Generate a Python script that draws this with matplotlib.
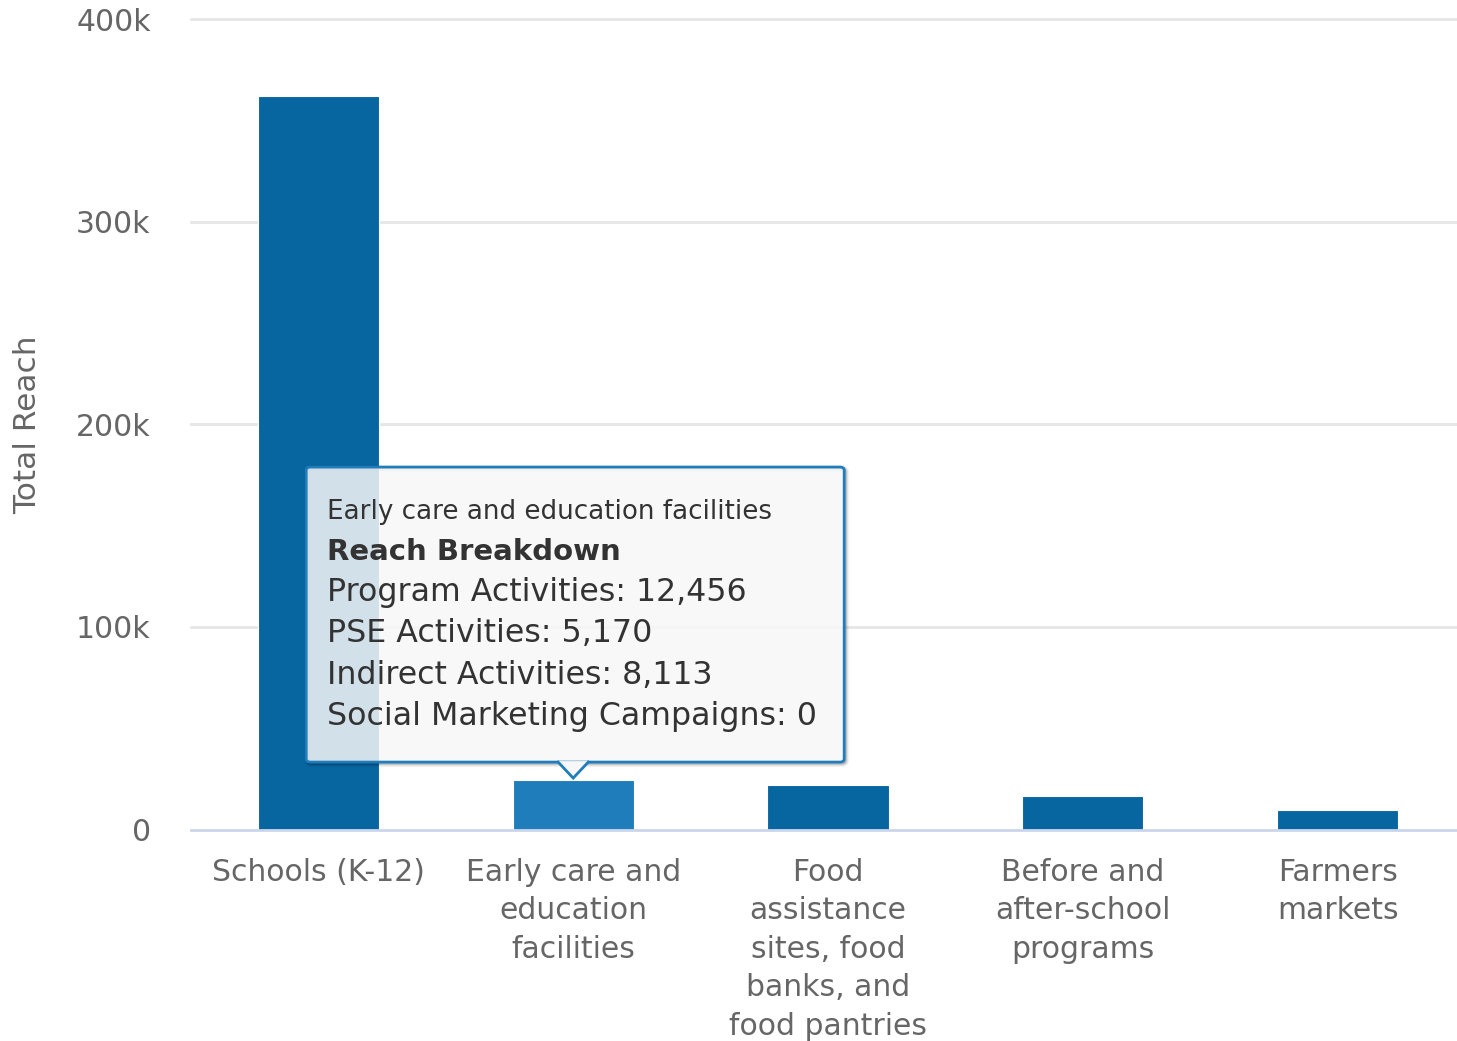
import matplotlib
matplotlib.use("Agg")
import matplotlib.pyplot as plt
from matplotlib.patches import FancyBboxPatch, Polygon
from matplotlib.ticker import FixedLocator, FuncFormatter

plt.rcParams['font.family'] = ['DejaVu Sans']

categories = ["Schools (K-12)", "Early care and\neducation\nfacilities",
              "Food\nassistance\nsites, food\nbanks, and\nfood pantries",
              "Before and\nafter-school\nprograms", "Farmers\nmarkets"]
total_reach = [362400, 24400, 21900, 16400, 9500]
y_ticks = [0, 100000, 200000, 300000, 400000]
y_tick_labels = ["0", "100k", "200k", "300k", "400k"]
highlight_index = 1
tooltip_title = "Early care and education facilities"
tooltip_header = "Reach Breakdown"
breakdown_labels = ["Program Activities", "PSE Activities", "Indirect Activities",
                    "Social Marketing Campaigns"]
breakdown_values = [12456, 5170, 8113, 0]

W, H, DPI = 1457, 1041, 100
fig = plt.figure(figsize=(W / DPI, H / DPI), dpi=DPI)
ax = fig.add_axes([191 / W, (H - 829.5) / H, (1465 - 191) / W, 810 / H])

base_color = "#07659f"
hi_color = "#1f7dbb"
colors = [hi_color if i == highlight_index else base_color for i in range(len(categories))]
x = list(range(len(categories)))
ax.bar(x, total_reach, width=0.476, color=colors, edgecolor="#ffffff", linewidth=0.8, zorder=3)

ax.set_xlim(-0.5, len(categories) - 0.5)
ax.set_ylim(0, 400000)
ax.yaxis.set_major_locator(FixedLocator(y_ticks))
ax.yaxis.set_major_formatter(FuncFormatter(lambda v, p: y_tick_labels[y_ticks.index(int(v))] if int(v) in y_ticks else ""))
ax.set_xticks(x)
ax.set_xticklabels(categories, fontsize=21.5, color="#666666", linespacing=1.41)
ax.tick_params(axis='x', length=0, pad=20.5)
ax.tick_params(axis='y', length=0, pad=29, labelsize=21.5, labelcolor="#666666")
for sp in ["top", "right", "left"]:
    ax.spines[sp].set_visible(False)
ax.spines["bottom"].set_color("#ccd6eb")
ax.spines["bottom"].set_linewidth(2)
ax.spines["bottom"].set_zorder(4)
for v in y_ticks[1:]:
    ax.axhline(v, color="#e6e6e6", linewidth=2, zorder=1, clip_on=False)

fig.text(28 / W, (H - 425) / H, "Total Reach", rotation=90, fontsize=22.5,
         color="#666666", ha="center", va="center")

# Tooltip anchored at highlighted bar top
tip_disp = ax.transData.transform((highlight_index, total_reach[highlight_index]))
tipx, tipy = tip_disp  # display px (origin bottom-left)
tipy += 2
box_w, box_h = 538, 295
box_left = tipx - 267
box_bottom = tipy + 16
inv = fig.transFigure.inverted()

def fxy(px, py):
    return inv.transform((px, py))

# shadow (outline strokes only, offset)
for lw, a in [(5, 0.05), (3, 0.1), (1.5, 0.15)]:
    (sx, sy) = fxy(box_left + 1.5, box_bottom - 1.5)
    sh = FancyBboxPatch((sx, sy), box_w / W, box_h / H,
                        boxstyle="round,pad=0,rounding_size=0.003",
                        transform=fig.transFigure, facecolor="none",
                        edgecolor=(0, 0, 0, a), linewidth=lw, zorder=9)
    fig.patches.append(sh)

bx, by = fxy(box_left, box_bottom)
box = FancyBboxPatch((bx, by), box_w / W, box_h / H,
                     boxstyle="round,pad=0,rounding_size=0.003",
                     transform=fig.transFigure, facecolor=(0.969, 0.969, 0.969, 0.85),
                     edgecolor=hi_color, linewidth=2, zorder=10)
fig.patches.append(box)
tri = Polygon([fxy(tipx - 16, box_bottom + 1), fxy(tipx, tipy), fxy(tipx + 16, box_bottom + 1)],
              closed=False, transform=fig.transFigure, facecolor=(0.969, 0.969, 0.969, 1),
              edgecolor=hi_color, linewidth=2, zorder=11)
fig.patches.append(tri)

text_left = box_left + 21
top = box_bottom + box_h
fig.text(*fxy(text_left, top - 45), tooltip_title, fontsize=18.8, color="#333333",
         ha="left", va="center", zorder=12)
fig.text(*fxy(text_left, top - 85), tooltip_header, fontsize=21, color="#333333",
         fontweight="bold", ha="left", va="center", zorder=12)
for i, (lab, val) in enumerate(zip(breakdown_labels, breakdown_values)):
    fig.text(*fxy(text_left, top - 125 - 41.5 * i), f"{lab}: {val:,}", fontsize=22.8,
             color="#333333", ha="left", va="center", zorder=12)

fig.savefig("out.png", dpi=DPI)
